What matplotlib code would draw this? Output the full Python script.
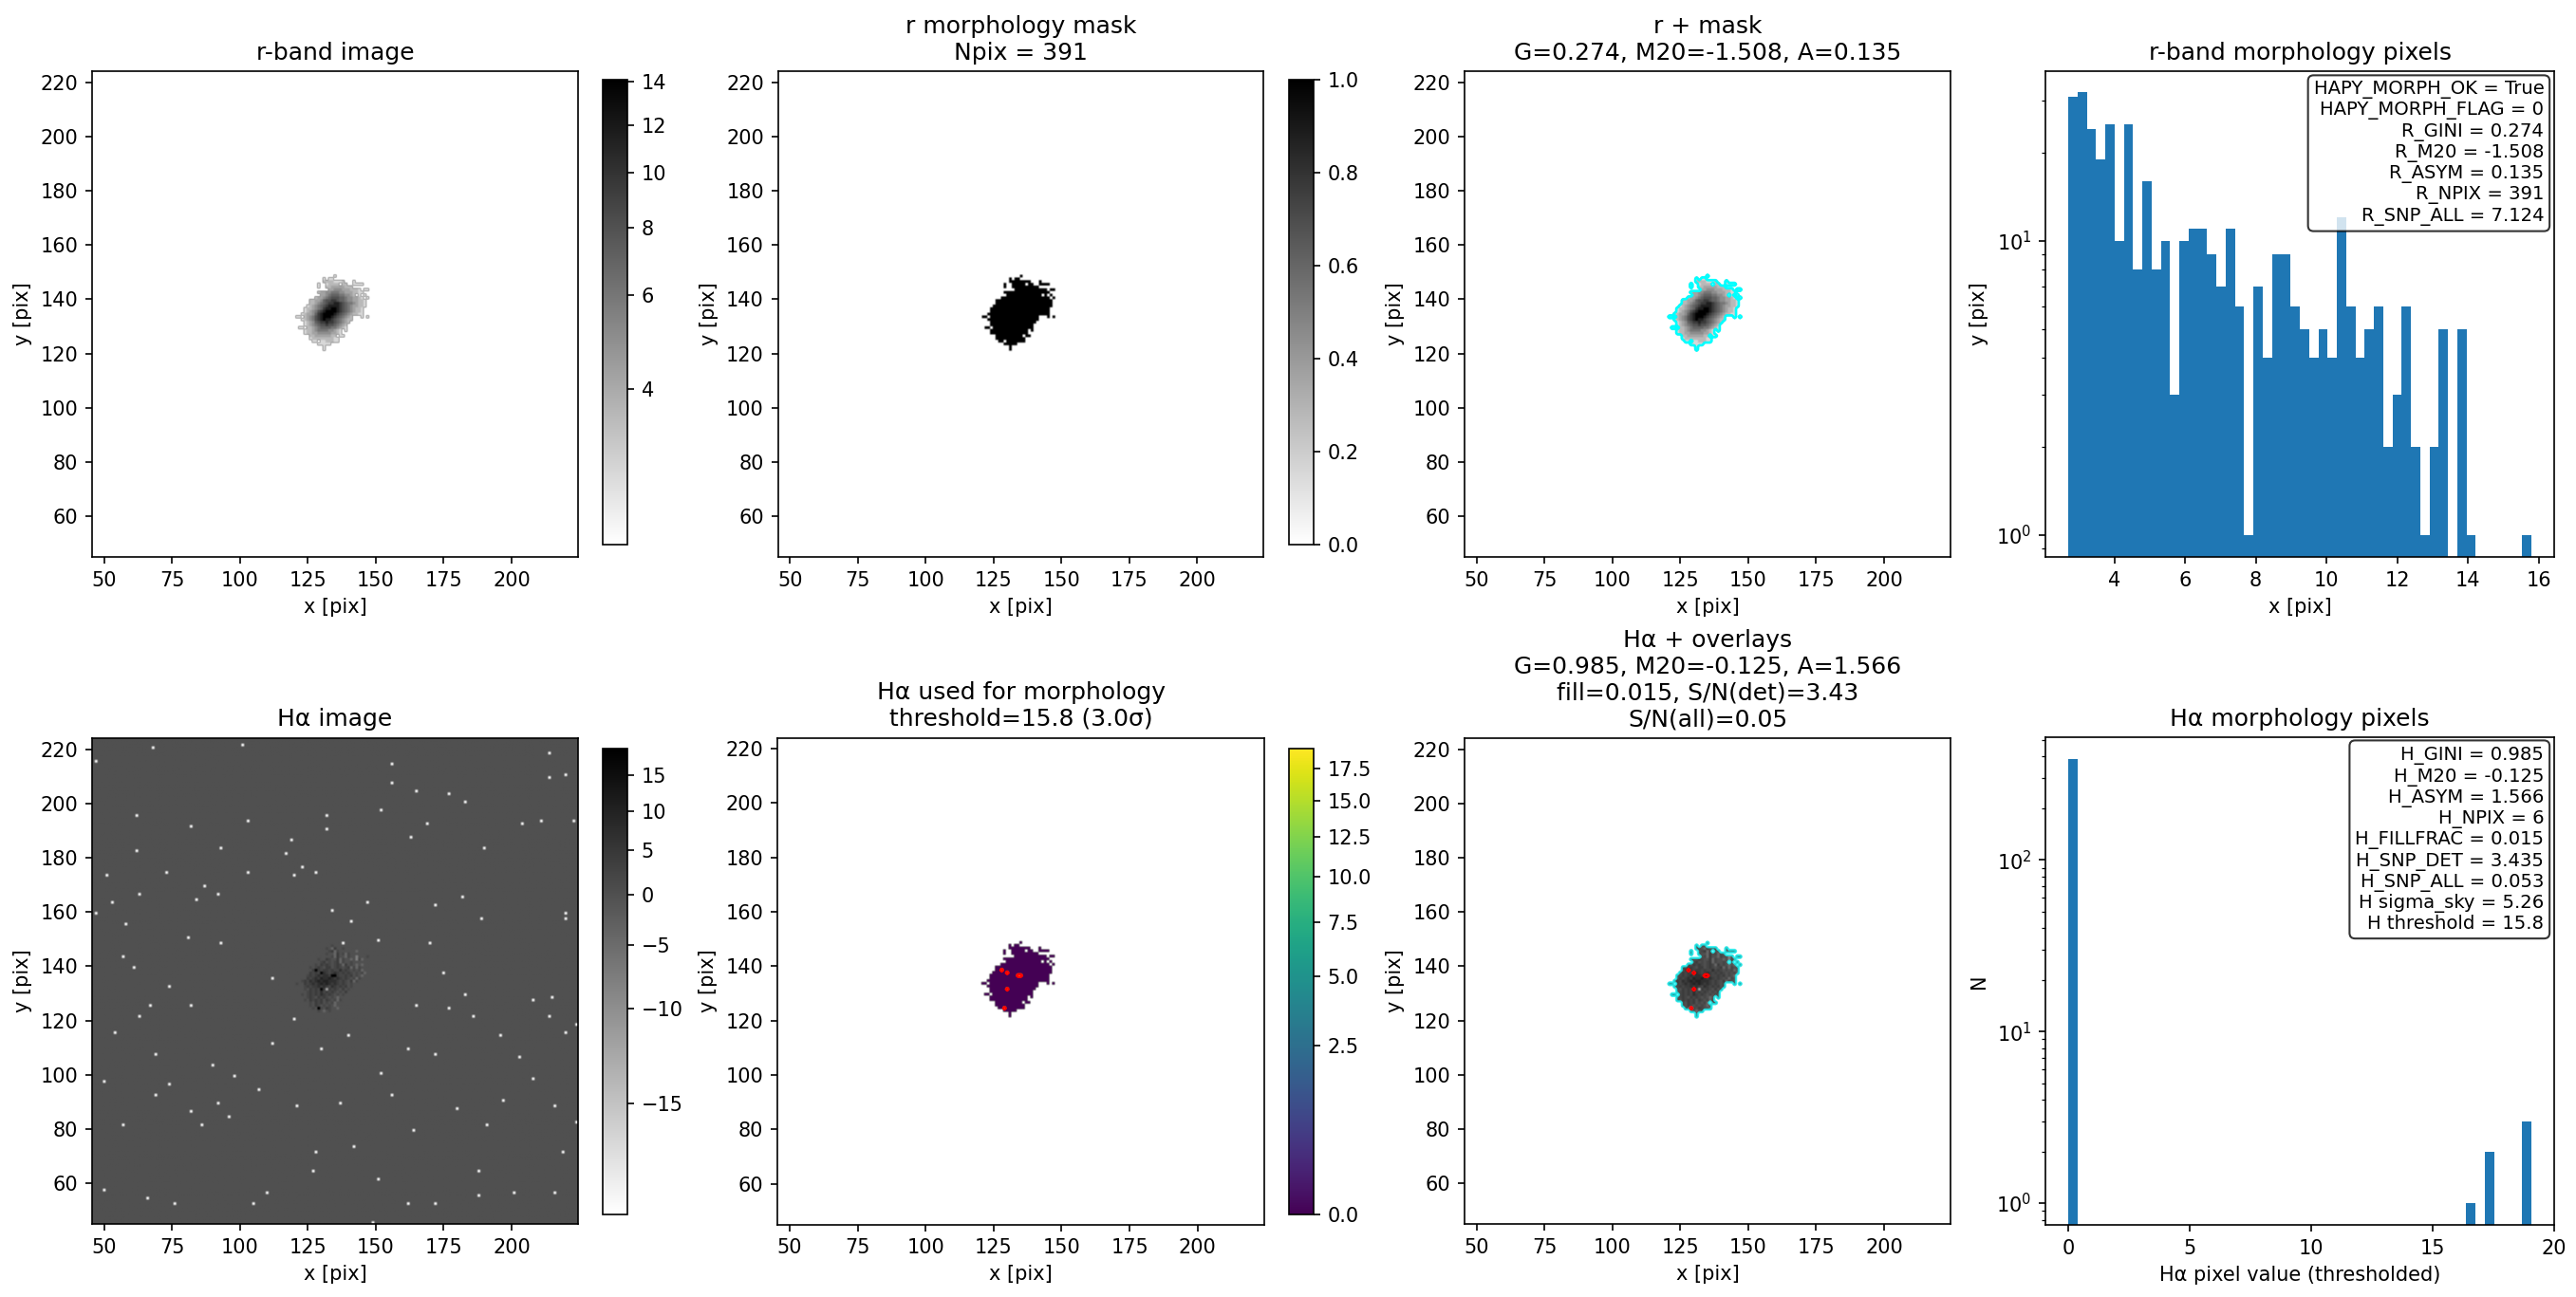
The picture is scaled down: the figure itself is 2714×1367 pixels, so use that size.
import numpy as np
import matplotlib
matplotlib.use('Agg')
import matplotlib.pyplot as plt
from matplotlib.colors import PowerNorm

W, H = 2714, 1367

# r-band pixels inside the morphology mask, level per pixel
# first column is x=121, first row is y=149
r_rows = [
    "..............0.............",
    "..........0.00..............",
    "..........11110001...0......",
    "........0..01111.11..0000...",
    "........0..1122222111.......",
    "............223332221110.00.",
    "........12233444332221100...",
    ".........2234555443321.0.0..",
    ".......122345666554332210.0.",
    ".....112235667765543322110..",
    ".....112345677887654432110..",
    "....0123456788887654322110..",
    "...0112345788998765432110...",
    "...0123467899998765432110...",
    "..01223578999987654321100...",
    "00.123467899987654321...0.0.",
    "..0123467898876543211.......",
    "...01235677877654321........",
    "...0123456676654321.........",
    ".00.112345555443210.........",
    "...01123444433210.0.........",
    "...01122333332210...........",
    ".....1122222211.00..........",
    ".....01111111100............",
    "......00.0011100............",
    "........00000...............",
    "..........0.................",
    "..........0.................",
]
r_level_flux = [3.0, 3.6, 4.2, 5.0, 6.0, 7.0, 8.0, 9.5, 11.5, 14.0]

# same pixels in Halpha
ha_rows = [
    "..............3.............",
    "..........3.34..............",
    "..........34325334...3......",
    "........3..34524.33..3233...",
    "........3..4332534243.......",
    "............342533243313.34.",
    "........43354335243323142...",
    ".........4534345243343.3.3..",
    ".......435454345425343232.3.",
    ".....434543553454345242433..",
    ".....354545545446454343423..",
    "....3545456545654545434342..",
    "...3454565665765445453432...",
    "...3545657667656545434243...",
    "..45465676776665454352433...",
    "43.545656767656545434...3.3.",
    "..3454556565465454534.......",
    "...43545465054543534........",
    "...3454546454543435.........",
    ".34.454546545434343.........",
    "...34543545434323.3.........",
    "...43545453543424...........",
    ".....4354534342.33..........",
    ".....43543434323............",
    "......43.4354332............",
    "........43234...............",
    "..........3.................",
    "..........3.................",
]
ha_level_flux = [-12.0, -8.0, -4.0, 0.0, 2.0, 4.0, 7.0, 10.0]

# pixels above the Halpha threshold
det_x = [128, 130, 134, 135, 130, 129]
det_y = [139, 138, 137, 137, 132, 125]
det_flux = [17.3, 16.6, 18.9, 18.9, 17.3, 18.9]

# Halpha sky: light specks, the rest of the sky is one level
ha_sky = 0.0
speck_flux = -17.0
speck_x = [68, 101, 47, 156, 62, 132, 156, 132, 211, 223, 204, 220, 214, 214, 62, 93, 123, 73, 51, 103,
           63, 87, 92, 84, 134, 220, 220, 172, 81, 138, 142, 112, 175, 82, 67, 54, 69, 90, 98, 107,
           140, 162, 203, 156, 121, 208, 191, 142, 128, 188, 110, 50, 149, 172, 188, 219, 208, 183, 215, 163,
           177, 183, 165, 152, 169, 190, 182, 189, 170, 147, 117, 119, 103, 82, 53, 47, 58, 93, 57, 50,
           74, 92, 82, 57, 86, 96, 137, 152, 130, 164, 180, 197, 216, 220, 214, 224, 196, 186, 172, 177,
           165, 120, 112, 69, 63, 66, 76, 105, 151, 162, 201, 216, 224, 127, 61, 74, 151, 141, 120, 128]
speck_y = [221, 222, 216, 215, 196, 196, 208, 191, 194, 194, 193, 211, 219, 210, 183, 184, 177, 175, 174, 175,
           167, 170, 167, 165, 161, 160, 158, 163, 151, 149, 142, 136, 138, 126, 126, 116, 108, 104, 100, 95,
           115, 110, 107, 93, 89, 99, 82, 74, 72, 65, 57, 58, 46, 53, 56, 72, 128, 130, 129, 188,
           204, 201, 205, 198, 193, 184, 166, 158, 149, 164, 182, 187, 194, 192, 164, 160, 156, 149, 144, 98,
           97, 90, 87, 82, 82, 85, 90, 101, 110, 80, 88, 91, 89, 116, 122, 119, 115, 122, 108, 125,
           126, 121, 112, 93, 122, 55, 53, 53, 62, 53, 57, 57, 83, 65, 140, 133, 150, 157, 174, 175]

# histogram of the r morphology pixels
r_hist_edges = np.linspace(2.70, 15.79, 51)
r_hist_counts = [31, 32, 24, 19, 25, 10, 25, 8, 16, 8, 10, 3, 10, 11, 11, 9, 7, 11, 6, 1,
                 7, 4, 9, 9, 6, 5, 4, 5, 4, 12, 6, 4, 5, 6, 2, 3, 6, 2, 1, 2,
                 5, 0, 5, 1, 0, 0, 0, 0, 0, 1]

# histogram of the thresholded Halpha pixels
ha_hist_edges = np.linspace(0.0, 19.06, 51)
ha_hist_counts = [0] * 50
ha_hist_counts[0] = 385
ha_hist_counts[43] = 1
ha_hist_counts[45] = 2
ha_hist_counts[49] = 3

r_text = ["HAPY_MORPH_OK = True", "HAPY_MORPH_FLAG = 0", "R_GINI = 0.274", "R_M20 = -1.508",
          "R_ASYM = 0.135", "R_NPIX = 391", "R_SNP_ALL = 7.124"]
ha_text = ["H_GINI = 0.985", "H_M20 = -0.125", "H_ASYM = 1.566", "H_NPIX = 6", "H_FILLFRAC = 0.015",
           "H_SNP_DET = 3.435", "H_SNP_ALL = 0.053", "H sigma_sky = 5.26", "H threshold = 15.8"]

# build the images, 179x179 cells with x,y from 46 to 224
# the y axis of the reference sits about half a cell lower than x
N = 179
y_shift = -0.45
xx = np.arange(46, 46 + N)
yy = np.arange(46, 46 + N) + y_shift
extent = (45.5, 224.5, 45.5 + y_shift, 224.5 + y_shift)

r_img = np.full((N, N), np.nan)
ha_img = np.full((N, N), ha_sky)
for i, j in zip(speck_x, speck_y):
    ha_img[j - 46, i - 46] = speck_flux
mask = np.zeros((N, N))
for r in range(len(r_rows)):
    y = 149 - r
    for k in range(28):
        x = 121 + k
        if r_rows[r][k] != '.':
            mask[y - 46, x - 46] = 1
            r_img[y - 46, x - 46] = r_level_flux[int(r_rows[r][k])]
        if ha_rows[r][k] != '.':
            ha_img[y - 46, x - 46] = ha_level_flux[int(ha_rows[r][k])]

det = np.zeros((N, N))
for i, j, f in zip(det_x, det_y, det_flux):
    det[j - 46, i - 46] = 1
    ha_img[j - 46, i - 46] = f

ha_used = np.where(mask > 0, 0.0, np.nan)
ha_used[det > 0] = ha_img[det > 0]
ha_inmask = np.where(mask > 0, ha_img, np.nan)

r_norm = PowerNorm(0.5, vmin=2.73, vmax=14.1)
ha_norm = PowerNorm(0.5, vmin=-17.04, vmax=19.06)
used_norm = PowerNorm(0.5, vmin=0, vmax=19.06)

fig = plt.figure(figsize=(W / 150, H / 150), dpi=150)


def box(x0, y0, x1, y1):
    return fig.add_axes([x0 / W, 1 - y1 / H, (x1 - x0) / W, (y1 - y0) / H])


def pix_labels(ax):
    ax.set_xlabel('x [pix]')
    ax.set_ylabel('y [pix]')


top_y = (75, 587)
bot_y = (777, 1291)
cols = [(97, 609), (819, 1332), (1543, 2055)]
hist_x = (2155, 2691)

# top row
ax = box(cols[0][0], top_y[0], cols[0][1], top_y[1])
im = ax.imshow(r_img, origin='lower', cmap='gray_r', norm=r_norm, extent=extent)
ax.set_title('r-band image')
pix_labels(ax)
cb = fig.colorbar(im, cax=box(635, 84, 661, 574))
cb.set_ticks([4, 6, 8, 10, 12, 14])
cb.ax.minorticks_off()

ax = box(cols[1][0], top_y[0], cols[1][1], top_y[1])
im = ax.imshow(mask, origin='lower', cmap='gray_r', vmin=0, vmax=1, extent=extent)
ax.set_title('r morphology mask\nNpix = 391')
pix_labels(ax)
fig.colorbar(im, cax=box(1358, 84, 1384, 574))

ax = box(cols[2][0], top_y[0], cols[2][1], top_y[1])
ax.imshow(r_img, origin='lower', cmap='gray_r', norm=r_norm, extent=extent)
ax.contour(xx, yy, mask, levels=[0.5], colors='cyan', linewidths=1.3)
ax.set_title('r + mask\nG=0.274, M20=-1.508, A=0.135')
pix_labels(ax)

ax = box(hist_x[0], top_y[0], hist_x[1], top_y[1])
ax.hist(r_hist_edges[:-1], bins=r_hist_edges, weights=r_hist_counts, log=True)
ax.set_ylim(0.843, 37.8)
ax.set_xlim(2.05, 16.44)
ax.set_title('r-band morphology pixels')
pix_labels(ax)
ax.text(0.98, 0.98, '\n'.join(r_text), transform=ax.transAxes, ha='right', va='top', fontsize=9.4,
        linespacing=1.15, bbox=dict(boxstyle='round', facecolor='white', alpha=0.8))

# bottom row
ax = box(cols[0][0], bot_y[0], cols[0][1], bot_y[1])
im = ax.imshow(ha_img, origin='lower', cmap='gray_r', norm=ha_norm, extent=extent)
ax.set_title('H\u03b1 image')
pix_labels(ax)
cb = fig.colorbar(im, cax=box(635, 789, 661, 1280))
cb.set_ticks([-15, -10, -5, 0, 5, 10, 15])
cb.ax.minorticks_off()

ax = box(cols[1][0], bot_y[0], cols[1][1], bot_y[1])
im = ax.imshow(ha_used, origin='lower', cmap='viridis', norm=used_norm, extent=extent)
ax.contour(xx, yy, det, levels=[0.5], colors='red', linewidths=1.2)
ax.set_title('H\u03b1 used for morphology\nthreshold=15.8 (3.0\u03c3)')
pix_labels(ax)
cb = fig.colorbar(im, cax=box(1358, 789, 1384, 1280))
cb.set_ticks([0, 2.5, 5, 7.5, 10, 12.5, 15, 17.5])
cb.set_ticklabels(['0.0', '2.5', '5.0', '7.5', '10.0', '12.5', '15.0', '17.5'])
cb.ax.minorticks_off()

ax = box(cols[2][0], bot_y[0], cols[2][1], bot_y[1])
ax.imshow(ha_inmask, origin='lower', cmap='gray_r', norm=ha_norm, extent=extent)
ax.contour(xx, yy, mask, levels=[0.5], colors='cyan', linewidths=1.2, alpha=0.7)
ax.contour(xx, yy, det, levels=[0.5], colors='red', linewidths=1.2)
ax.set_title('H\u03b1 + overlays\nG=0.985, M20=-0.125, A=1.566\nfill=0.015, S/N(det)=3.43\nS/N(all)=0.05')
pix_labels(ax)

ax = box(hist_x[0], bot_y[0], hist_x[1], bot_y[1])
ax.hist(ha_hist_edges[:-1], bins=ha_hist_edges, weights=ha_hist_counts, log=True)
ax.set_ylim(0.747, 518)
ax.set_xlim(-0.95, 20.01)
ax.set_title('H\u03b1 morphology pixels')
ax.set_xlabel('H\u03b1 pixel value (thresholded)')
ax.set_ylabel('N')
ax.text(0.98, 0.98, '\n'.join(ha_text), transform=ax.transAxes, ha='right', va='top', fontsize=9.4,
        linespacing=1.15, bbox=dict(boxstyle='round', facecolor='white', alpha=0.8))

fig.savefig('out.png', dpi=150)
